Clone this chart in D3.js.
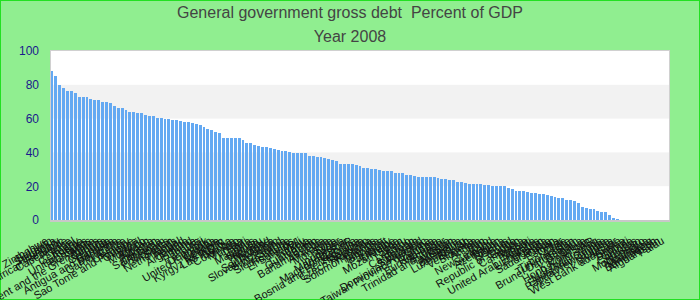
<!DOCTYPE html>
<html>
<head>
<meta charset="utf-8">
<script src="https://cdn.jsdelivr.net/npm/d3@7.9.0/dist/d3.min.js"></script>
<style>
  html, body { margin: 0; padding: 0; background: #90ee90; }
  svg { display: block; }
  text { font-family: "Liberation Sans", Arial, sans-serif; }
</style>
</head>
<body>
<svg id="chart" width="700" height="300"></svg>
<script>
const countries = [
  'Zimbabwe', 'Belgium', 'Sri Lanka', 'Hungary', 'Central African Republic', 'Cape Verde',
  'France', 'Israel', 'Germany', 'Austria', 'United States', 'Barbados', 'Malta',
  'Saint Vincent and the Grenadines', 'Cyprus', 'Grenada', 'Canada', 'Antigua and Barbuda',
  'Dominica', 'Gambia, The', 'Belize', 'Uruguay', 'Sao Tome and Principe', 'Guyana', 'Brazil',
  'Morocco', 'Jordan', 'Albania', 'Pakistan', 'Saint Lucia', 'Vietnam', 'Philippines', 'Sudan',
  'Netherlands', 'Nepal', 'Poland', 'Argentina', 'Finland', 'Tonga', 'Panama', 'Fiji', 'Denmark',
  'United Kingdom', 'Croatia', 'Ethiopia', 'Kyrgyz Republic', 'Lao P.D.R.', 'Bolivia', 'Colombia',
  'Mexico', 'Tunisia', 'Haiti', 'Latvia', 'Mauritius', 'Samoa', 'Vanuatu', 'Norway', 'Thailand',
  'South Africa', 'Slovak Republic', 'Switzerland', 'Serbia', 'Sierra Leone', 'Honduras',
  'El Salvador', 'Mali', 'Turkey', 'Lithuania', 'Guatemala', 'Benin', 'Bahamas, The', 'Armenia',
  'Korea', 'Mongolia', 'Syria', 'Niger', 'Indonesia', 'Madagascar', 'Macedonia, FYR', 'Georgia',
  'Bosnia and Herzegovina', 'Moldova', 'Czech Republic', 'Rwanda', 'Solomon Islands', 'Namibia',
  'Tanzania', 'Kuwait', 'Paraguay', 'Ukraine', 'Mozambique', 'Spain', 'Peru', 'Lesotho',
  'Cameroon', 'Bahrain', 'Swaziland', 'Dominican Republic', 'Taiwan Province of China', 'Zambia',
  'Romania', 'Burkina Faso', 'Ecuador', 'Trinidad and Tobago', 'Tajikistan', 'Australia',
  'Botswana', 'Luxembourg', 'Bhutan', 'Venezuela', 'Slovenia', 'Angola', 'Iran', 'Togo',
  'New Zealand', 'Suriname', 'Azerbaijan', 'Nigeria', 'Belarus', 'Chad', 'Republic of Congo',
  'Gabon', 'Cambodia', 'Russia', 'Kiribati', 'Algeria', 'United Arab Emirates', 'Uzbekistan',
  'Uganda', 'Saudi Arabia', 'Oman', 'Estonia', 'Qatar', 'Chile', 'Timor-Leste', 'Turkmenistan',
  'Brunei Darussalam', 'Bulgaria', 'Libya', 'Kazakhstan', 'Hong Kong SAR', 'Iraq',
  'Marshall Islands', 'Equatorial Guinea', 'Papua New Guinea', 'Liberia',
  'Myanmar', 'West Bank and Gaza', 'Eritrea', 'Djibouti', 'Guinea', 'Comoros', 'Kosovo',
  'Montenegro', 'Nicaragua', 'Mauritania', 'Bangladesh', 'Afghanistan', 'Palau'
];

const debt2008 = [
  88.3, 85.4, 80.0, 78.2, 76.5, 76.5, 75.3, 72.9, 72.9, 72.9, 71.7, 71.1, 71.1, 69.9, 69.9,
  69.3, 67.6, 66.4, 66.4, 65.2, 64.0, 64.0, 63.4, 63.4, 62.2, 61.6, 61.6, 60.4, 60.4, 59.8,
  59.8, 59.3, 59.3, 58.7, 58.1, 58.1, 57.5, 56.9, 56.3, 55.1, 53.9, 53.3, 52.2, 51.6, 48.6,
  48.6, 48.6, 48.6, 48.6, 47.4, 45.6, 45.6, 44.4, 43.8, 43.2, 43.2, 42.6, 42.0, 41.5, 40.9,
  40.9, 40.3, 39.7, 39.7, 39.7, 39.7, 37.9, 37.9, 37.3, 37.3, 36.7, 36.1, 35.5, 34.9, 33.2,
  33.2, 33.2, 33.2, 32.6, 32.0, 30.8, 30.8, 30.2, 30.2, 29.6, 29.0, 29.0, 29.0, 27.8, 27.8,
  27.8, 26.7, 26.7, 26.1, 25.5, 25.5, 25.5, 25.5, 25.5, 24.9, 24.3, 24.3, 23.7, 23.7, 22.5,
  22.5, 21.9, 21.3, 21.3, 21.3, 21.3, 20.7, 20.7, 20.2, 20.2, 20.2, 20.2, 19.0, 18.4, 17.2,
  17.2, 17.2, 16.6, 16.0, 16.0, 15.4, 15.4, 14.8, 14.2, 13.6, 13.0, 13.0, 11.9, 11.9, 11.3,
  10.1, 7.7, 7.1, 6.5, 6.5, 5.3, 4.7, 4.7, 3.0, 1.2, 0.6
];

const yTicks = [0, 20, 40, 60, 80, 100];
const titleLines = ['General government gross debt  Percent of GDP', 'Year 2008'];

const W = 700, H = 300;
const margin = { top: 51, right: 30, bottom: 80, left: 50 };
const svg = d3.select('#chart');

svg.append('rect')
  .attr('x', 0.5).attr('y', 0.5)
  .attr('width', W - 1).attr('height', H - 1)
  .attr('fill', '#90ee90')
  .attr('stroke', '#22e022');

const x = d3.scaleBand()
  .domain(countries)
  .range([margin.left, W - margin.right])
  .paddingInner(0.25)
  .paddingOuter(0.12);

const y = d3.scaleLinear()
  .domain([0, 100])
  .range([H - margin.bottom, margin.top]);

// plot background with alternating bands
const plot = svg.append('g');
plot.append('rect')
  .attr('x', margin.left).attr('y', y(100))
  .attr('width', W - margin.left - margin.right)
  .attr('height', y(0) - y(100))
  .attr('fill', '#fff');

d3.pairs(yTicks).forEach(([a, b], i) => {
  if (i % 2 === 1) {
    plot.append('rect')
      .attr('x', margin.left).attr('y', y(b))
      .attr('width', W - margin.left - margin.right)
      .attr('height', y(a) - y(b))
      .attr('fill', '#f2f2f2');
  }
});

// bars
svg.append('g')
  .selectAll('rect')
  .data(debt2008)
  .join('rect')
  .attr('shape-rendering', 'crispEdges')
  .attr('x', (d, i) => x(countries[i]))
  .attr('width', x.bandwidth())
  .attr('y', (d) => y(d))
  .attr('height', (d) => y(0) - y(d))
  .attr('fill', '#64a9f2');

// plot frame
svg.append('rect')
  .attr('x', margin.left + 0.5).attr('y', y(100) - 0.5)
  .attr('width', W - margin.left - margin.right - 1)
  .attr('height', y(0) - y(100) + 1)
  .attr('fill', 'none')
  .attr('stroke', '#d0d0d0');

svg.append('line')
  .attr('x1', margin.left).attr('x2', W - margin.right)
  .attr('y1', y(0) + 1).attr('y2', y(0) + 1)
  .attr('stroke', '#c8c8c8')
  .attr('stroke-width', 2);

// y axis
const yAxis = svg.append('g')
  .attr('transform', `translate(${margin.left - 11},0)`)
  .call(d3.axisLeft(y).tickValues(yTicks).tickSize(0).tickPadding(0));
yAxis.select('.domain').remove();
yAxis.selectAll('text')
  .attr('fill', '#1a1a8c')
  .style('font-size', '12px')
  .style('font-family', '"Liberation Sans", Arial, sans-serif');

// x labels
svg.append('g')
  .selectAll('text')
  .data(countries)
  .join('text')
  .attr('transform', (d) => `translate(${x(d) + x.bandwidth() / 2 - 3},${y(0) + 23}) rotate(-30)`)
  .attr('text-anchor', 'end')
  .attr('fill', '#111')
  .style('font-size', '11px')
  .text((d) => d);

// titles
svg.selectAll('.title')
  .data(titleLines)
  .join('text')
  .attr('class', 'title')
  .attr('x', W / 2)
  .attr('y', (d, i) => 18 + i * 24)
  .attr('text-anchor', 'middle')
  .attr('fill', '#444')
  .style('font-size', '16px')
  .style('white-space', 'pre')
  .text((d) => d);
</script>
</body>
</html>
